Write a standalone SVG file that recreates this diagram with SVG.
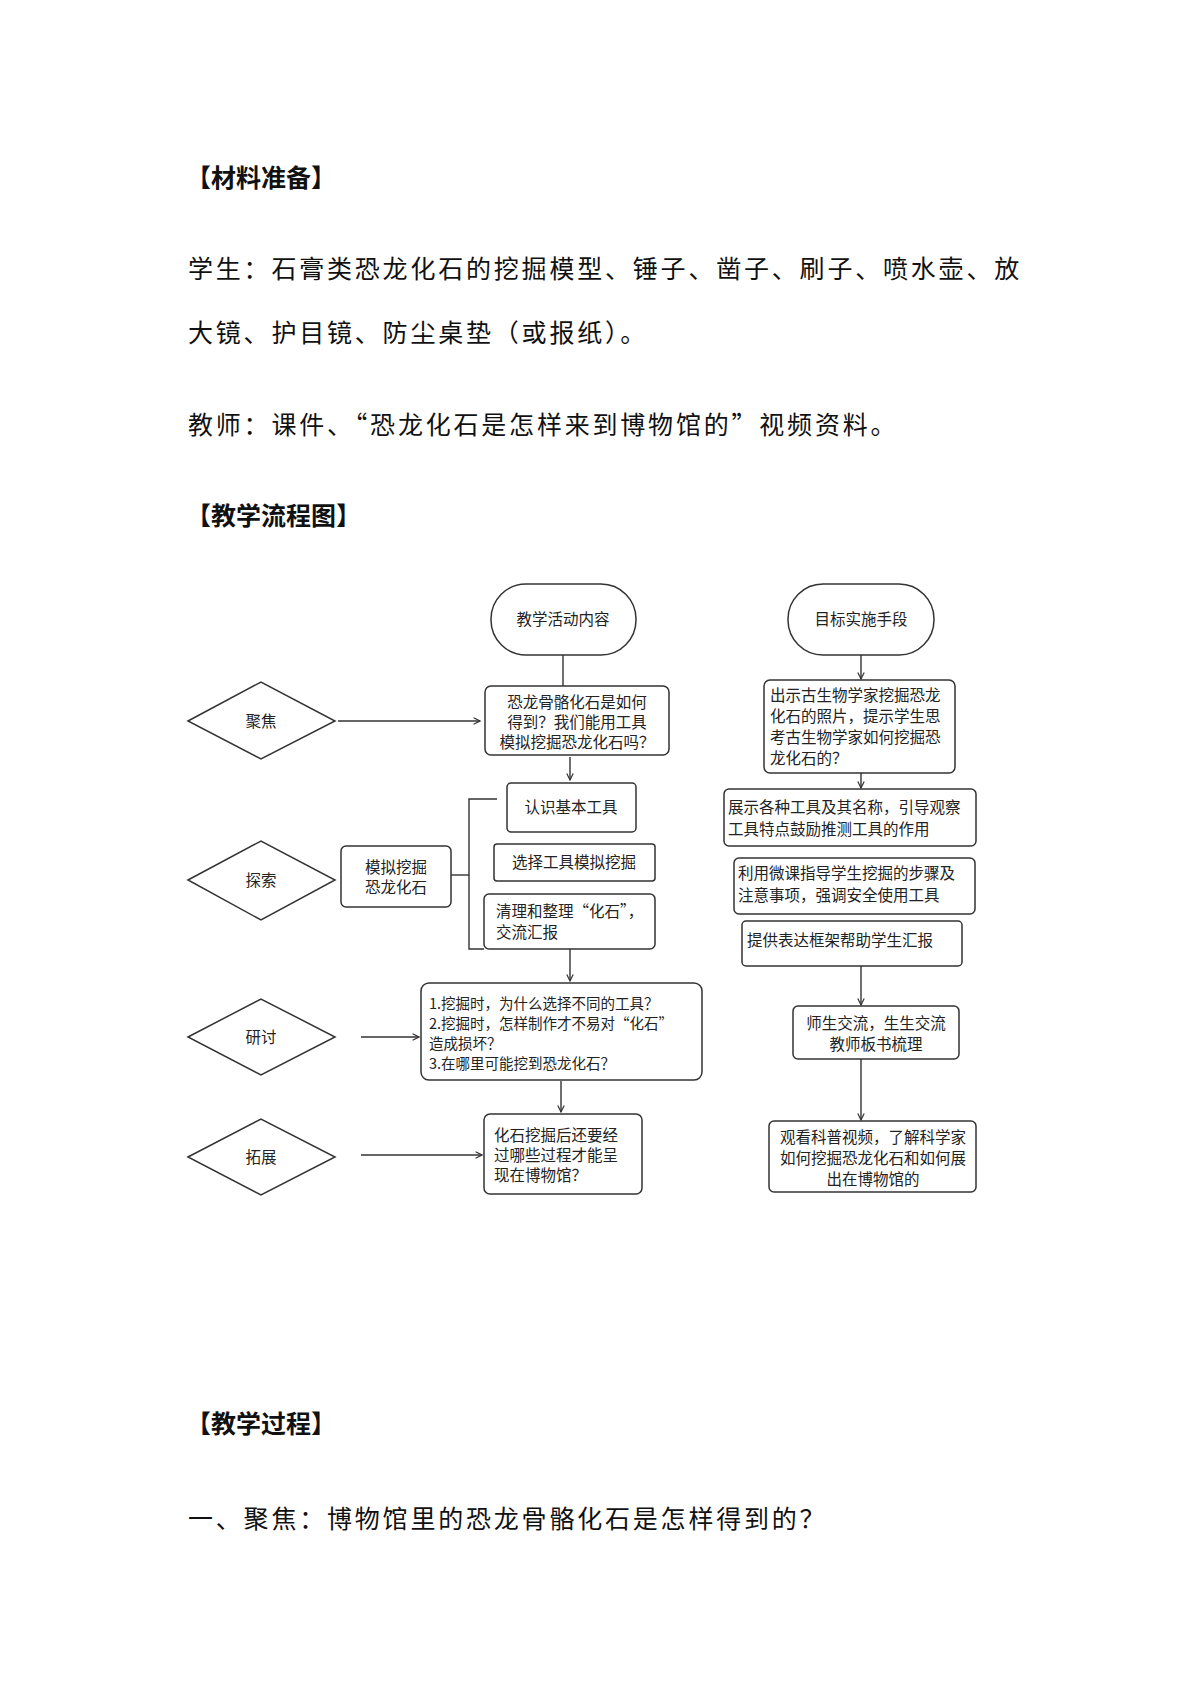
<svg xmlns="http://www.w3.org/2000/svg" width="1200" height="1697" viewBox="0 0 1200 1697">
<defs>
<marker id="ah" viewBox="0 0 10 10" refX="9" refY="5" markerWidth="8" markerHeight="8" markerUnits="userSpaceOnUse" orient="auto"><path d="M1,1 L9,5 L1,9" fill="none" stroke="#333" stroke-width="1.5"/></marker>
<style>
.h{font-family:"Noto Sans CJK SC","Liberation Sans",sans-serif;font-size:25px;font-weight:bold;fill:#111}
.b{font-family:"Noto Sans CJK SC","Liberation Sans",sans-serif;font-size:25px;letter-spacing:2.8px;fill:#111}
.t{font-family:"Noto Sans CJK SC","Liberation Sans",sans-serif;font-size:15.5px;fill:#222}
.s{font-family:"Noto Sans CJK SC","Liberation Sans",sans-serif;font-size:14.5px;fill:#222}
.n{fill:#fff;stroke:#333;stroke-width:1.5}
.c{fill:none;stroke:#333;stroke-width:1.4}
.a{fill:none;stroke:#333;stroke-width:1.4;marker-end:url(#ah)}
</style>
</defs>
<rect width="1200" height="1697" fill="#fff"/>
<text class="h" x="186" y="187">【材料准备】</text>
<text class="b" x="188" y="278">学生：石膏类恐龙化石的挖掘模型、锤子、凿子、刷子、喷水壶、放</text>
<text class="b" x="188" y="342">大镜、护目镜、防尘桌垫（或报纸）。</text>
<text class="b" x="188" y="434">教师：课件、“恐龙化石是怎样来到博物馆的”视频资料。</text>
<text class="h" x="186" y="525">【教学流程图】</text>
<text class="h" x="186" y="1433">【教学过程】</text>
<text class="b" x="188" y="1528">一、聚焦：博物馆里的恐龙骨骼化石是怎样得到的？</text>

<g transform="translate(0,-5)">
<g id="connectors">
<line class="c" x1="563" y1="660" x2="563" y2="691"/>
<line class="a" x1="338" y1="726" x2="480" y2="726"/>
<line class="a" x1="570" y1="762" x2="570" y2="785"/>
<path class="c" d="M497,804 H469 V954 H484"/>
<line class="c" x1="451" y1="880" x2="469" y2="880"/>
<line class="a" x1="570" y1="954" x2="570" y2="986"/>
<line class="a" x1="361" y1="1042" x2="419" y2="1042"/>
<line class="a" x1="561" y1="1086" x2="561" y2="1117"/>
<line class="a" x1="361" y1="1160" x2="482" y2="1160"/>
<line class="a" x1="861" y1="660" x2="861" y2="684"/>
<line class="a" x1="861" y1="778" x2="861" y2="793"/>
<line class="a" x1="861" y1="971" x2="861" y2="1010"/>
<line class="a" x1="861" y1="1064" x2="861" y2="1125"/>
</g>

<g id="term1"><rect class="n" x="491" y="589" width="145" height="71" rx="35"/><text class="t" x="563" y="630" text-anchor="middle">教学活动内容</text></g>
<g id="term2"><rect class="n" x="788" y="589" width="146" height="71" rx="35"/><text class="t" x="861" y="630" text-anchor="middle">目标实施手段</text></g>

<g id="d1"><polygon class="n" points="188,726 261,687 335,726 261,764"/><text class="t" x="261" y="732" text-anchor="middle">聚焦</text></g>
<g id="d2"><polygon class="n" points="188,885 261,846 335,885 261,925"/><text class="t" x="261" y="891" text-anchor="middle">探索</text></g>
<g id="d3"><polygon class="n" points="188,1042 261,1004 335,1042 261,1080"/><text class="t" x="261" y="1048" text-anchor="middle">研讨</text></g>
<g id="d4"><polygon class="n" points="188,1162 261,1124 335,1162 261,1200"/><text class="t" x="261" y="1168" text-anchor="middle">拓展</text></g>

<g id="b1"><rect class="n" x="485" y="691" width="184" height="69" rx="6"/><text class="t" x="577" y="713" text-anchor="middle">恐龙骨骼化石是如何</text><text class="t" x="577" y="733" text-anchor="middle">得到？我们能用工具</text><text class="t" x="577" y="753" text-anchor="middle">模拟挖掘恐龙化石吗？</text></g>
<g id="b2"><rect class="n" x="507" y="788" width="129" height="49" rx="4"/><text class="t" x="571" y="818" text-anchor="middle">认识基本工具</text></g>
<g id="b3"><rect class="n" x="494" y="849" width="161" height="37" rx="3"/><text class="t" x="574" y="873" text-anchor="middle">选择工具模拟挖掘</text></g>
<g id="b4"><rect class="n" x="484" y="899" width="171" height="55" rx="5"/><text class="t" x="496" y="922">清理和整理“化石”，</text><text class="t" x="496" y="943">交流汇报</text></g>
<g id="b5"><rect class="n" x="341" y="851" width="110" height="61" rx="5"/><text class="t" x="396" y="878" text-anchor="middle">模拟挖掘</text><text class="t" x="396" y="898" text-anchor="middle">恐龙化石</text></g>
<g id="b6"><rect class="n" x="421" y="988" width="281" height="97" rx="8"/><text class="s" x="429" y="1014">1.挖掘时，为什么选择不同的工具？</text><text class="s" x="429" y="1034">2.挖掘时，怎样制作才不易对“化石”</text><text class="s" x="429" y="1054">造成损坏？</text><text class="s" x="429" y="1074">3.在哪里可能挖到恐龙化石？</text></g>
<g id="b7"><rect class="n" x="484" y="1119" width="158" height="80" rx="6"/><text class="t" x="494" y="1146">化石挖掘后还要经</text><text class="t" x="494" y="1166">过哪些过程才能呈</text><text class="t" x="494" y="1186">现在博物馆？</text></g>

<g id="r1"><rect class="n" x="764" y="685" width="191" height="93" rx="6"/><text class="t" x="770" y="706">出示古生物学家挖掘恐龙</text><text class="t" x="770" y="727">化石的照片，提示学生思</text><text class="t" x="770" y="748">考古生物学家如何挖掘恐</text><text class="t" x="770" y="769">龙化石的？</text></g>
<g id="r2"><rect class="n" x="724" y="794" width="252" height="57" rx="5"/><text class="t" x="728" y="818">展示各种工具及其名称，引导观察</text><text class="t" x="728" y="840">工具特点鼓励推测工具的作用</text></g>
<g id="r3"><rect class="n" x="734" y="863" width="241" height="56" rx="5"/><text class="t" x="738" y="884">利用微课指导学生挖掘的步骤及</text><text class="t" x="738" y="906">注意事项，强调安全使用工具</text></g>
<g id="r4"><rect class="n" x="742" y="926" width="220" height="45" rx="4"/><text class="t" x="747" y="951">提供表达框架帮助学生汇报</text></g>
<g id="r5"><rect class="n" x="793" y="1011" width="166" height="53" rx="5"/><text class="t" x="876" y="1034" text-anchor="middle">师生交流，生生交流</text><text class="t" x="876" y="1055" text-anchor="middle">教师板书梳理</text></g>
<g id="r6"><rect class="n" x="769" y="1126" width="207" height="71" rx="5"/><text class="t" x="873" y="1148" text-anchor="middle">观看科普视频，了解科学家</text><text class="t" x="873" y="1169" text-anchor="middle">如何挖掘恐龙化石和如何展</text><text class="t" x="873" y="1190" text-anchor="middle">出在博物馆的</text></g>
</g>
</svg>
